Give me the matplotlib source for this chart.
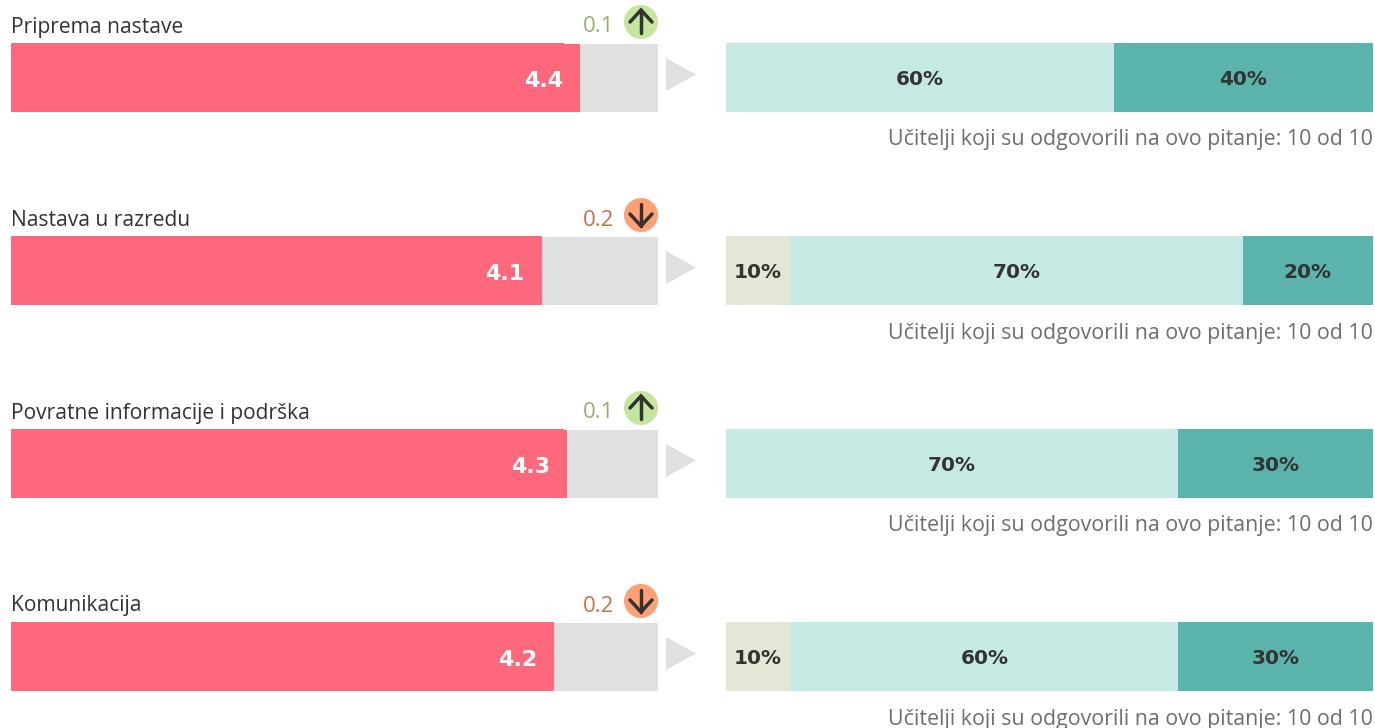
import matplotlib.pyplot as plt
from matplotlib.patches import Circle, Polygon, Rectangle

plt.rcParams["font.family"] = ["Open Sans", "DejaVu Sans"]

categories = ["Priprema nastave", "Nastava u razredu", "Povratne informacije i podrška", "Komunikacija"]
scores = [4.4, 4.1, 4.3, 4.2]
deltas = [0.1, 0.2, 0.1, 0.2]
directions = ["up", "down", "up", "down"]
share_low = [0, 10, 0, 10]
share_mid = [60, 70, 70, 60]
share_high = [40, 20, 30, 30]
caption = "Učitelji koji su odgovorili na ovo pitanje: 10 od 10"

W, H = 1375, 728
FIRST_TOP, PITCH, BAR_H = 43, 193, 69

RED = "#FD687D"
GREY = "#E0E0E0"
DARK = "#333333"
segment_colors = ["#E2E8D5", "#C7E9E3", "#5AB4AB"]

fig = plt.figure(figsize=(W / 100, H / 100), dpi=100, facecolor="white")


def pixel_axes(left, right):
    ax = fig.add_axes([left / W, 0, (right - left) / W, 1])
    ax.set_ylim(H, 0)
    ax.axis("off")
    return ax


ax_score = pixel_axes(11, 658)
ax_score.set_xlim(0, 5)
ax_share = pixel_axes(725.55, 1372.55)
ax_share.set_xlim(0, 100)

# overlay in pixel coordinates for labels, badges and triangles
ax = fig.add_axes([0, 0, 1, 1], facecolor="none")
ax.set_xlim(0, W)
ax.set_ylim(H, 0)
ax.set_aspect("equal")
ax.axis("off")

for i, name in enumerate(categories):
    top = FIRST_TOP + PITCH * i
    mid = top + BAR_H / 2

    # score bar on a 0-5 scale
    ax_score.barh(mid + 0.5, 5, height=BAR_H - 1, color=GREY, linewidth=0)
    ax_score.barh(mid, scores[i], height=BAR_H, color=RED, linewidth=0)
    ax_score.annotate(f"{scores[i]:.1f}", (scores[i], mid), xytext=(-12.2, -2.6),
                      textcoords="offset points", ha="right", va="center",
                      color="white", fontsize=16, fontweight="bold",
                      family=["DejaVu Sans"])

    # white strip left by the label box above the bar
    ax.add_patch(Rectangle((564, top - 1), 94, 2, color="white", linewidth=0, zorder=3))

    ax.text(11, top - 16, name, ha="left", va="center", color=DARK, fontsize=15.1)

    # change value and arrow badge
    is_up = directions[i] == "up"
    ax.text(614, top - 16, f"{deltas[i]:.1f}", ha="right", va="center", fontsize=16,
            color="#93B271" if is_up else "#C96F48")
    cy = top - 21
    ax.add_patch(Circle((641, cy), 17, color="#C5E69E" if is_up else "#FFA076", linewidth=0))
    tip, tail, wing = (cy - 12, cy + 11, cy) if is_up else (cy + 11, cy - 11, cy - 1)
    ax.plot([641, 641], [tail, tip], color=DARK, lw=2.5, solid_capstyle="round")
    ax.plot([630, 641, 652], [wing, tip, wing], color=DARK, lw=2.5,
            solid_capstyle="round", solid_joinstyle="miter")

    ax.add_patch(Polygon([(666, top + 15), (696, top + 31.5), (666, top + 48)], color=GREY, linewidth=0))

    # answer shares
    left = 0
    for value, color in zip((share_low[i], share_mid[i], share_high[i]), segment_colors):
        if value == 0:
            continue
        ax_share.barh(mid, value, left=left, height=BAR_H, color=color, linewidth=0)
        ax_share.text(left + value / 2, mid + 2, f"{value}%", ha="center", va="center",
                      color=DARK, fontsize=14.4, fontweight="bold", family=["DejaVu Sans"])
        left += value

    ax.text(1373, top + 97, caption, ha="right", va="center", color="#6E6E6E", fontsize=15.4)

fig.savefig("out.png", dpi=100)
